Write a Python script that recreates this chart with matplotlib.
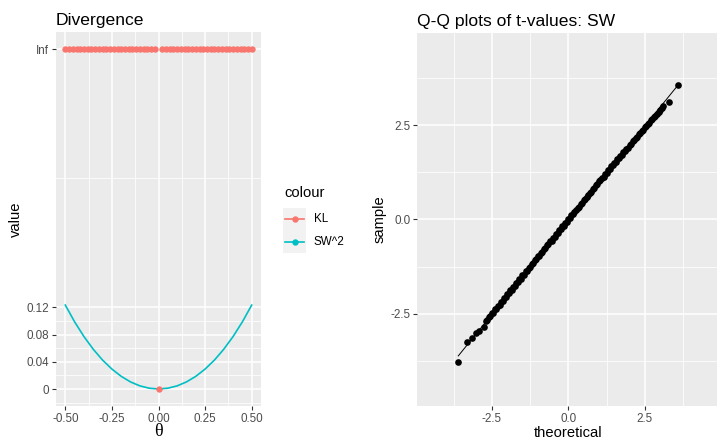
import matplotlib

matplotlib.use("Agg")
import matplotlib.pyplot as plt
from matplotlib.lines import Line2D
from matplotlib.patches import Rectangle

plt.rcParams["font.family"] = ["Liberation Sans", "DejaVu Sans"]

# --- left panel data: divergence against theta
INF = float("inf")
kl_theta = [-0.50, -0.48, -0.46, -0.44, -0.42, -0.40, -0.38, -0.36, -0.34, -0.32,
            -0.30, -0.28, -0.26, -0.24, -0.22, -0.20, -0.18, -0.16, -0.14, -0.12,
            -0.10, -0.08, -0.06, -0.04, -0.02, 0.00, 0.02, 0.04, 0.06, 0.08,
            0.10, 0.12, 0.14, 0.16, 0.18, 0.20, 0.22, 0.24, 0.26, 0.28,
            0.30, 0.32, 0.34, 0.36, 0.38, 0.40, 0.42, 0.44, 0.46, 0.48, 0.50]
kl_value = [INF] * 25 + [0.0] + [INF] * 25

sw_theta = [-0.50, -0.45, -0.40, -0.35, -0.30, -0.25, -0.20, -0.15, -0.10, -0.05, 0.00,
            0.05, 0.10, 0.15, 0.20, 0.25, 0.30, 0.35, 0.40, 0.45, 0.50]
sw_value = [0.1234, 0.0987, 0.0771, 0.0584, 0.0425, 0.0293, 0.0186, 0.0104, 0.0046, 0.0012, 0.0,
            0.0012, 0.0046, 0.0104, 0.0186, 0.0293, 0.0425, 0.0584, 0.0771, 0.0987, 0.1234]

div_yticks = [0.0, 0.04, 0.08, 0.12, 0.5]
div_ylabels = ["0", "0.04", "0.08", "0.12", "Inf"]
div_xticks = [-0.50, -0.25, 0.00, 0.25, 0.50]
div_xlabels = ["-0.50", "-0.25", "0.00", "0.25", "0.50"]

# --- right panel data: Q-Q points of t-values
qq_theoretical = [
    -3.60, -3.30, -3.16, -3.03, -2.92, -2.75, -2.70,
    -2.65, -2.60, -2.55, -2.50, -2.45, -2.40, -2.35, -2.30, -2.25, -2.20,
    -2.15, -2.10, -2.05, -2.00, -1.95, -1.90, -1.85, -1.80, -1.75, -1.70,
    -1.65, -1.60, -1.55, -1.50, -1.45, -1.40, -1.35, -1.30, -1.25, -1.20,
    -1.15, -1.10, -1.05, -1.00, -0.95, -0.90, -0.85, -0.80, -0.75, -0.70,
    -0.65, -0.60, -0.55, -0.50, -0.45, -0.40, -0.35, -0.30, -0.25, -0.20,
    -0.15, -0.10, -0.05, 0.00, 0.05, 0.10, 0.15, 0.20, 0.25, 0.30,
    0.35, 0.40, 0.45, 0.50, 0.55, 0.60, 0.65, 0.70, 0.75, 0.80,
    0.85, 0.90, 0.95, 1.00, 1.05, 1.10, 1.15, 1.20, 1.25, 1.30,
    1.35, 1.40, 1.45, 1.50, 1.55, 1.60, 1.65, 1.70, 1.75, 1.80,
    1.85, 1.90, 1.95, 2.00, 2.05, 2.10, 2.15, 2.20, 2.25, 2.30,
    2.35, 2.40, 2.45, 2.50, 2.55, 2.60, 2.65, 2.70, 2.75, 2.80,
    2.85, 2.90, 2.95, 3.00, 3.05, 3.10,
    3.29, 3.58]
qq_sample = [
    -3.78, -3.26, -3.15, -3.01, -2.97, -2.84, -2.70,
    -2.66, -2.59, -2.57, -2.49, -2.47, -2.38, -2.37, -2.29, -2.26, -2.18,
    -2.16, -2.08, -2.06, -1.98, -1.96, -1.88, -1.86, -1.78, -1.76, -1.68,
    -1.66, -1.58, -1.57, -1.48, -1.46, -1.38, -1.37, -1.28, -1.26, -1.18,
    -1.16, -1.08, -1.06, -0.98, -0.96, -0.88, -0.86, -0.78, -0.76, -0.68,
    -0.66, -0.58, -0.56, -0.48, -0.46, -0.38, -0.36, -0.28, -0.26, -0.18,
    -0.16, -0.08, -0.06, 0.01, 0.04, 0.11, 0.14, 0.21, 0.24, 0.31,
    0.34, 0.41, 0.44, 0.51, 0.54, 0.61, 0.64, 0.71, 0.74, 0.81,
    0.84, 0.91, 0.94, 1.01, 1.04, 1.11, 1.14, 1.21, 1.24, 1.31,
    1.34, 1.41, 1.44, 1.50, 1.53, 1.60, 1.63, 1.69, 1.72, 1.79,
    1.82, 1.88, 1.91, 1.98, 2.01, 2.08, 2.10, 2.17, 2.19, 2.26,
    2.29, 2.36, 2.38, 2.45, 2.48, 2.54, 2.57, 2.63, 2.66, 2.72,
    2.75, 2.81, 2.84, 2.90, 2.95, 3.01,
    3.12, 3.57]
qq_line_x = [-3.60, 3.58]
qq_line_y = [-3.62, 3.56]
qq_ticks = [-2.5, 0.0, 2.5]
qq_minor = [-3.75, -1.25, 1.25, 3.75]

KL_COLOUR = "#F8766D"
SW_COLOUR = "#00BFC4"
W, H = 717, 442
TICK_SIZE = 8.4
LAB_SIZE = 10.6


def box(x0, y0, x1, y1):
    # pixel box (top-left origin) -> figure fraction rect
    return [x0 / W, 1 - y1 / H, (x1 - x0) / W, (y1 - y0) / H]


def gg_axes(ax, xlim, ylim, major_x, major_y, minor_x, minor_y):
    ax.set_facecolor("#EBEBEB")
    ax.set_xlim(*xlim)
    ax.set_ylim(*ylim)
    for v in minor_x:
        ax.axvline(v, color="white", lw=0.55, zorder=0.5)
    for v in minor_y:
        ax.axhline(v, color="white", lw=0.55, zorder=0.5)
    for v in major_x:
        ax.axvline(v, color="white", lw=1.1, zorder=0.6)
    for v in major_y:
        ax.axhline(v, color="white", lw=1.1, zorder=0.6)
    for s in ax.spines.values():
        s.set_visible(False)
    ax.tick_params(length=2.8, width=0.8, color="#333333", labelcolor="#4D4D4D",
                   labelsize=TICK_SIZE, pad=2)


fig = plt.figure(figsize=(W / 100, H / 100), dpi=100)
fig.patch.set_facecolor("white")

# ---------- left: Divergence
ax1 = fig.add_axes(box(56, 32, 261, 406))
gg_axes(ax1, (-0.55, 0.55), (-0.025, 0.525), div_xticks, div_yticks,
        [-0.375, -0.125, 0.125, 0.375], [-0.02, 0.02, 0.06, 0.10, 0.31])
ax1.plot(sw_theta, sw_value, color=SW_COLOUR, lw=1.2, zorder=2)
inf_pos = div_yticks[-1]
kl_plot = [inf_pos if v == INF else v for v in kl_value]
ax1.plot(kl_theta, kl_plot, "o", color=KL_COLOUR, ms=4.6, mew=0, zorder=3)
ax1.set_xticks(div_xticks, div_xlabels)
ax1.set_yticks(div_yticks, div_ylabels)
ax1.set_title("Divergence", loc="left", fontsize=12.6, pad=5, color="black")
ax1.set_ylabel("value", fontsize=LAB_SIZE, labelpad=3)
ax1.set_xlabel("\u03b8", fontsize=13, family=["Liberation Serif", "DejaVu Serif"], labelpad=-1)

# legend drawn by hand, ggplot style
fig.text(284 / W, 1 - 193 / H, "colour", fontsize=LAB_SIZE, va="center", ha="left")
for yc, lab, col in ((219, "KL", KL_COLOUR), (242, "SW^2", SW_COLOUR)):
    fig.add_artist(Rectangle((283 / W, 1 - (yc + 11.5) / H), 23 / W, 23 / H,
                             transform=fig.transFigure, facecolor="#F2F2F2",
                             edgecolor="none"))
    fig.add_artist(Line2D([285 / W, 304 / W], [1 - yc / H] * 2, transform=fig.transFigure,
                          color=col, lw=1.2))
    fig.add_artist(Line2D([294.5 / W], [1 - yc / H], transform=fig.transFigure,
                          color=col, marker="o", ms=4.6, mew=0))
    fig.text(314 / W, 1 - yc / H, lab, fontsize=TICK_SIZE, va="center", ha="left")

# ---------- right: Q-Q plot
ax2 = fig.add_axes(box(417, 33, 719.7, 406))
gg_axes(ax2, (-4.95, 4.95), (-4.95, 4.95), qq_ticks, qq_ticks, qq_minor, qq_minor)
ax2.plot(qq_line_x, qq_line_y, color="black", lw=0.7, zorder=2)
ax2.plot(qq_theoretical, qq_sample, "o", color="black", ms=4.8, mew=0, zorder=3)
ax2.set_xticks(qq_ticks, ["-2.5", "0.0", "2.5"])
ax2.set_yticks(qq_ticks, ["-2.5", "0.0", "2.5"])
ax2.set_title("Q-Q plots of t-values: SW", loc="left", fontsize=12.6, pad=5, color="black")
ax2.set_xlabel("theoretical", fontsize=LAB_SIZE, labelpad=1)
ax2.set_ylabel("sample", fontsize=LAB_SIZE, labelpad=3)

fig.savefig("out.png", dpi=100)
